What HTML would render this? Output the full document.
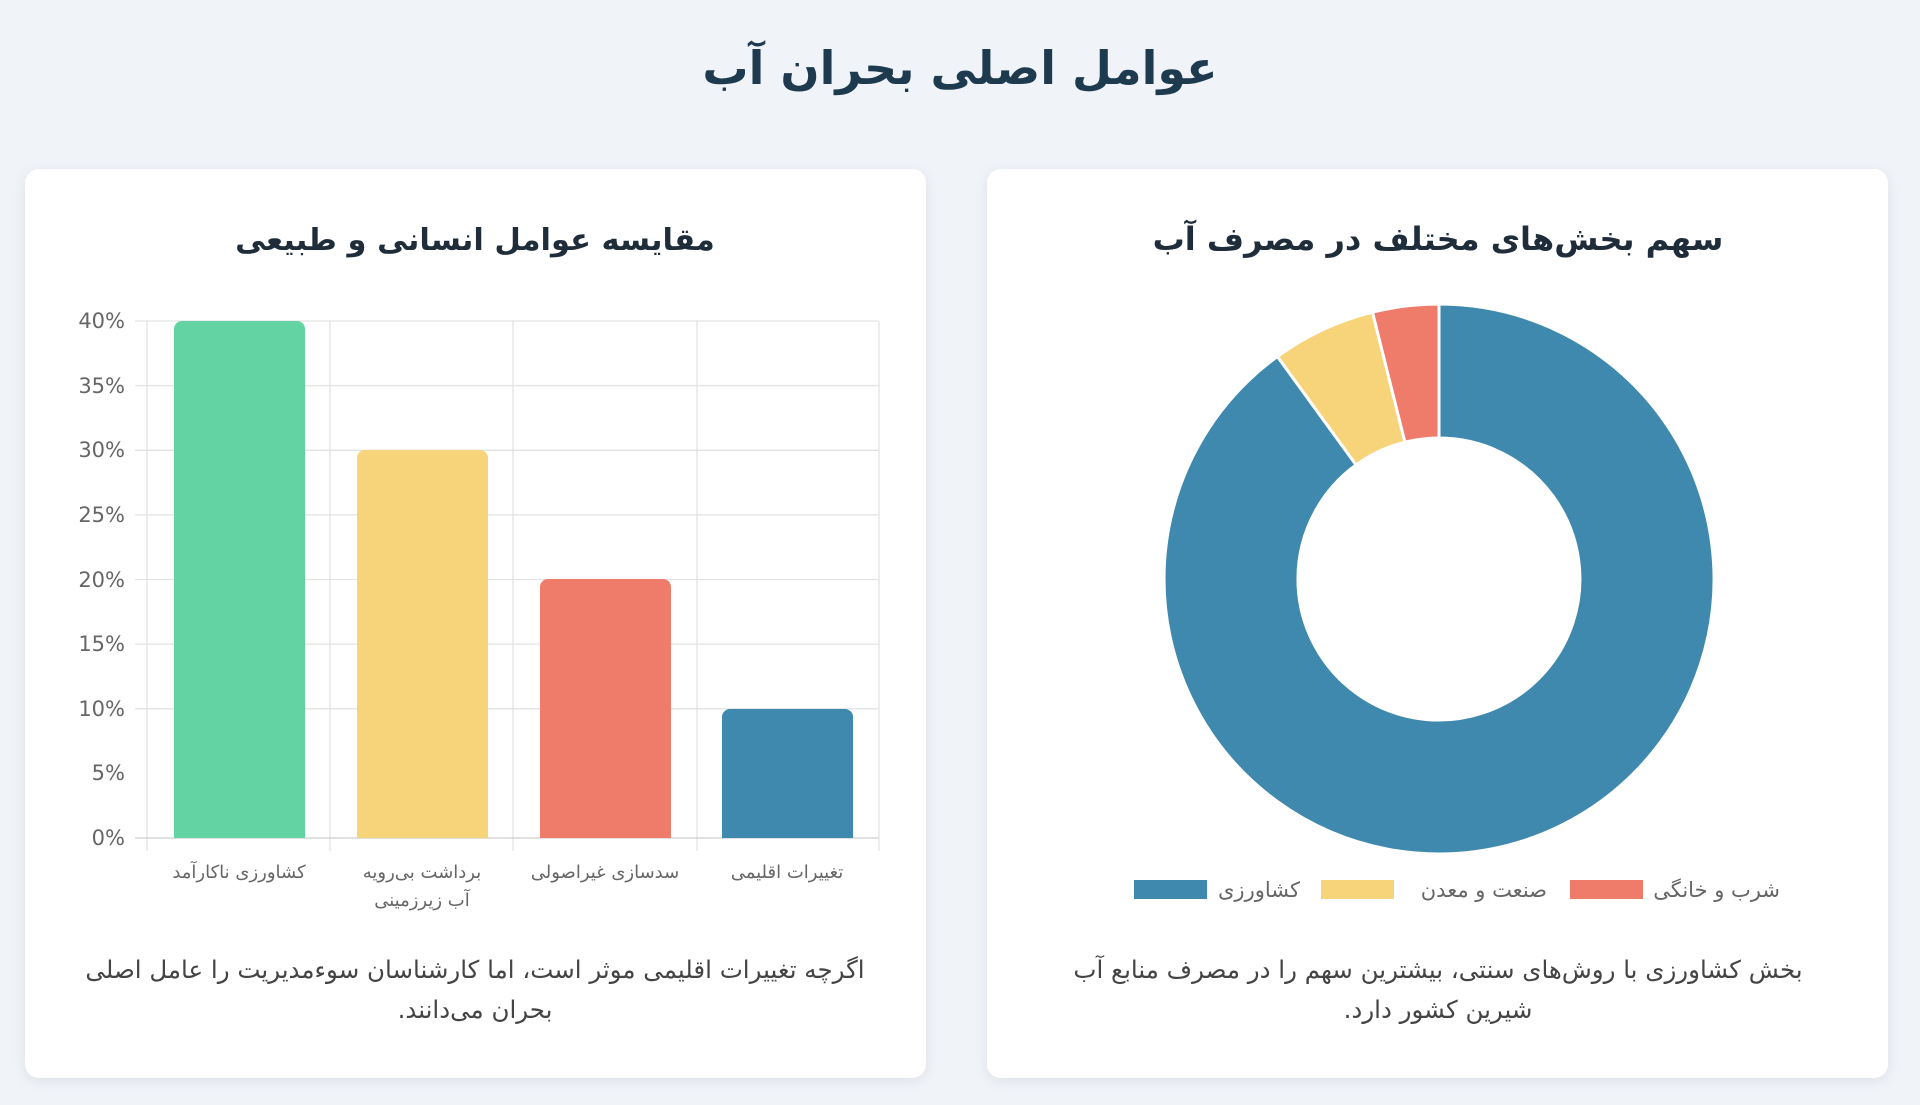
<!DOCTYPE html>
<html><head><meta charset="utf-8"><style>
html,body{margin:0;padding:0;background:#f0f4f9;width:1920px;height:1105px;overflow:hidden}
svg{display:block}
text{font-family:"DejaVu Sans","Liberation Sans",sans-serif}
</style></head><body>
<svg width="1920" height="1105" viewBox="0 0 1920 1105" xmlns="http://www.w3.org/2000/svg">
<defs>
<filter id="sh" x="-5%" y="-5%" width="110%" height="110%"><feDropShadow dx="0" dy="3" stdDeviation="6" flood-color="#000" flood-opacity="0.08"/></filter>
</defs>
<text x="960" y="84" text-anchor="middle" direction="rtl" font-size="46" font-weight="bold" fill="#1d3a4e">عوامل اصلی بحران آب</text>
<rect x="25" y="169" width="901" height="909" rx="14" fill="#fff" filter="url(#sh)"/>
<rect x="987" y="169" width="901" height="909" rx="14" fill="#fff" filter="url(#sh)"/>
<text x="475" y="250" text-anchor="middle" direction="rtl" font-size="30.5" font-weight="bold" fill="#1f2d3a">مقایسه عوامل انسانی و طبیعی</text>
<text x="1438" y="250" text-anchor="middle" direction="rtl" font-size="32" font-weight="bold" fill="#1f2d3a">سهم بخش‌های مختلف در مصرف آب</text>
<g stroke="#e3e3e3" stroke-width="1.3">
<line x1="135" y1="321" x2="879" y2="321"/><line x1="135" y1="385.6" x2="879" y2="385.6"/>
<line x1="135" y1="450.3" x2="879" y2="450.3"/><line x1="135" y1="514.9" x2="879" y2="514.9"/>
<line x1="135" y1="579.5" x2="879" y2="579.5"/><line x1="135" y1="644.1" x2="879" y2="644.1"/>
<line x1="135" y1="708.8" x2="879" y2="708.8"/>
<line x1="147" y1="321" x2="147" y2="851"/><line x1="330" y1="321" x2="330" y2="851"/>
<line x1="513" y1="321" x2="513" y2="851"/><line x1="697" y1="321" x2="697" y2="851"/>
<line x1="879" y1="321" x2="879" y2="851"/>
</g>
<line x1="135" y1="838" x2="879" y2="838" stroke="#cfcfcf" stroke-width="1.3"/>
<g font-size="21" fill="#666" text-anchor="end" font-family="Liberation Sans">
<text x="125" y="328">40%</text><text x="125" y="393">35%</text><text x="125" y="457">30%</text>
<text x="125" y="522">25%</text><text x="125" y="587">20%</text><text x="125" y="651">15%</text>
<text x="125" y="716">10%</text><text x="125" y="780">5%</text><text x="125" y="845">0%</text>
</g>
<path d="M174 838 V329 a8 8 0 0 1 8 -8 H297 a8 8 0 0 1 8 8 V838Z" fill="#63d3a4"/>
<path d="M357 838 V458 a8 8 0 0 1 8 -8 H480 a8 8 0 0 1 8 8 V838Z" fill="#f7d47a"/>
<path d="M540 838 V587 a8 8 0 0 1 8 -8 H663 a8 8 0 0 1 8 8 V838Z" fill="#ef7b6a"/>
<path d="M722 838 V717 a8 8 0 0 1 8 -8 H845 a8 8 0 0 1 8 8 V838Z" fill="#3f89ae"/>
<g font-size="18" fill="#666" text-anchor="middle" direction="rtl">
<text x="239" y="878">کشاورزی ناکارآمد</text>
<text x="422" y="878">برداشت بی‌رویه</text><text x="422" y="906">آب زیرزمینی</text>
<text x="605" y="878">سدسازی غیراصولی</text>
<text x="787" y="878">تغییرات اقلیمی</text>
</g>
<g font-size="24.5" fill="#444" text-anchor="middle" direction="rtl">
<text x="475" y="978">اگرچه تغییرات اقلیمی موثر است، اما کارشناسان سوءمدیریت را عامل اصلی</text>
<text x="475" y="1018">بحران می‌دانند.</text>
<text x="1438" y="978">بخش کشاورزی با روش‌های سنتی، بیشترین سهم را در مصرف منابع آب</text>
<text x="1438" y="1018">شیرین کشور دارد.</text>
</g>
<g stroke="#fff" stroke-width="3">
<path d="M1439 304 A275 275 0 1 1 1277.4 356.5 L1356.1 464.9 A141 141 0 1 0 1439 438 Z" fill="#3f89ae"/>
<path d="M1277.4 356.5 A275 275 0 0 1 1372.5 312.2 L1404.9 442.2 A141 141 0 0 0 1356.1 464.9 Z" fill="#f7d47a"/>
<path d="M1372.5 312.2 A275 275 0 0 1 1439 304 L1439 438 A141 141 0 0 0 1404.9 442.2 Z" fill="#ef7b6a"/>
</g>
<rect x="1134" y="880" width="73" height="19" fill="#3f89ae"/>
<rect x="1321" y="880" width="73" height="19" fill="#f7d47a"/>
<rect x="1570" y="880" width="73" height="19" fill="#ef7b6a"/>
<g font-size="21" fill="#666" direction="rtl" text-anchor="start">
<text x="1300" y="897">کشاورزی</text>
<text x="1547" y="897">صنعت و معدن</text>
<text x="1780" y="897">شرب و خانگی</text>
</g>
</svg>
</body></html>
